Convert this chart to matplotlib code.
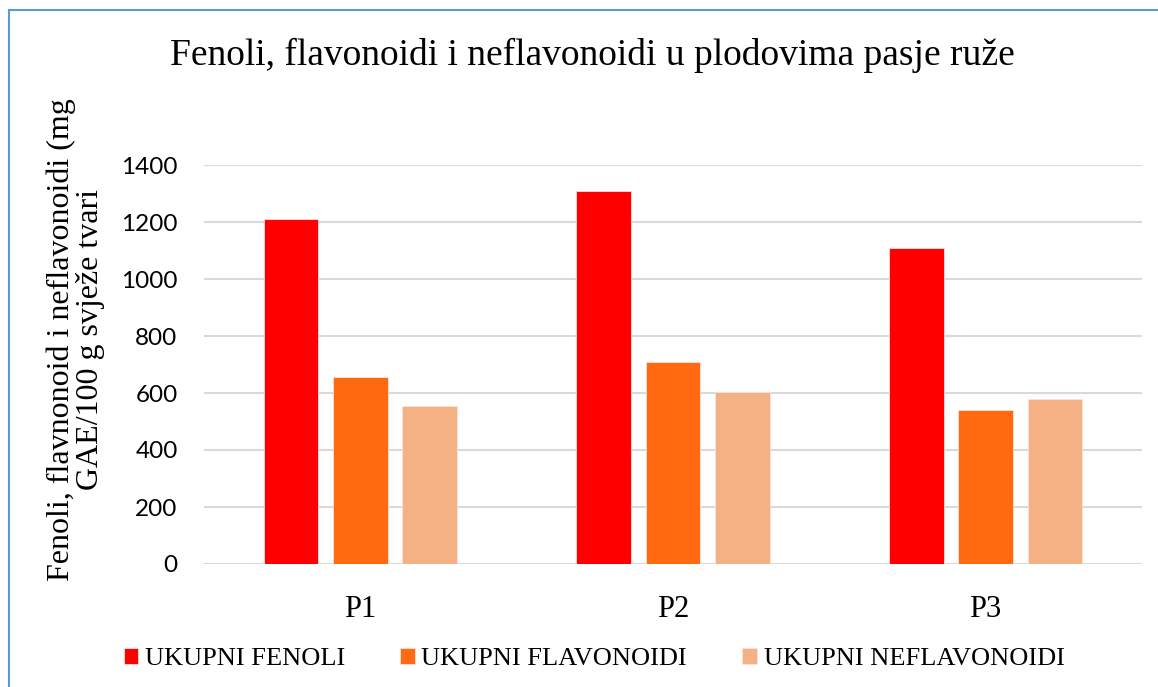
import numpy as np
import matplotlib
matplotlib.use("Agg")
import matplotlib.pyplot as plt
from matplotlib.patches import Rectangle

# podaci
kategorije = ["P1", "P2", "P3"]
fenoli = [1210, 1310, 1110]
flavonoidi = [655, 708, 540]
neflavonoidi = [555, 602, 578]
serije = ["UKUPNI FENOLI", "UKUPNI FLAVONOIDI", "UKUPNI NEFLAVONOIDI"]
boje = ["#FF0000", "#FF6A10", "#F4B183"]

plt.rcParams["font.family"] = ["Liberation Serif", "DejaVu Serif"]

fig = plt.figure(figsize=(11.58, 6.87), dpi=100)
ax = fig.add_axes([204 / 1158, 1 - 564 / 687, 938 / 1158, 399 / 687])

x = np.arange(len(kategorije))
sirina = 0.175
razmak = 0.222
for i, (vals, ime, boja) in enumerate(zip([fenoli, flavonoidi, neflavonoidi], serije, boje)):
    ax.bar(x + (i - 1) * razmak, vals, sirina, color=boja, label=ime,
           edgecolor="#FFE0E0", linewidth=0.6, zorder=3)

ax.set_xlim(-0.5, 2.5)
ax.set_ylim(0, 1400)
ax.set_yticks(np.arange(0, 1401, 200))
ax.yaxis.grid(True, color="#D9D9D9", linewidth=1.5, zorder=0)
ax.set_axisbelow(True)
for s in ax.spines.values():
    s.set_visible(False)
ax.tick_params(length=0)
ax.set_xticks(x)
ax.set_xticklabels(kategorije, fontsize=22)
ax.tick_params(axis="x", pad=22)
for t in ax.get_yticklabels():
    t.set_fontfamily(["Lato", "DejaVu Sans"])
    t.set_fontsize(17.5)
ax.tick_params(axis="y", pad=19)

fig.text(592 / 1158, 1 - 55 / 687,
         "Fenoli, flavonoidi i neflavonoidi u plodovima pasje ruže",
         ha="center", va="center", fontsize=27)
fig.text(76 / 1158, 1 - 340 / 687,
         "Fenoli, flavnonoid i neflavonoidi (mg\nGAE/100 g svježe tvari",
         ha="center", va="center", rotation=90, fontsize=23, linespacing=1.0)

leg = fig.legend(loc="center", bbox_to_anchor=(594 / 1158, 1 - 659 / 687), ncol=3,
                 frameon=False, fontsize=19, handlelength=0.55, handleheight=0.6,
                 handletextpad=0.25, columnspacing=2.1)

# okvir
fig.patches.append(Rectangle((9 / 1158, -0.05), 1.2, 1 - 10 / 687 + 0.05,
                             transform=fig.transFigure, fill=False,
                             edgecolor="#5B9BD5", linewidth=1.5))

fig.savefig("out.png", dpi=100)
